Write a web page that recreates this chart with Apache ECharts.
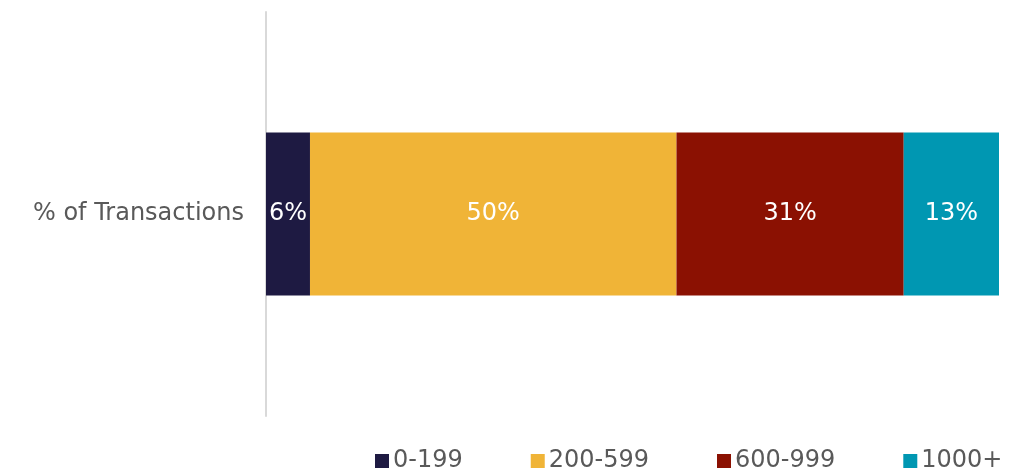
<!DOCTYPE html>
<html>
<head>
<meta charset="utf-8">
<style>
  html, body { margin: 0; padding: 0; background: #fff; }
  #chart { width: 1029px; height: 473px; }
</style>
<script src="https://cdn.jsdelivr.net/npm/echarts@6/dist/echarts.min.js"></script>
</head>
<body>
<div id="chart"></div>
<script>
  const CATEGORIES = ["% of Transactions"];
  const SERIES_NAMES = ["0-199", "200-599", "600-999", "1000+"];
  const SERIES_VALUES = [[6], [50], [31], [13]];
  const COLORS = ["#1e1a42", "#f0b437", "#8b1102", "#0097b2"];

  const chart = echarts.init(document.getElementById("chart"));
  const FONT = "'DejaVu Sans', sans-serif";

  chart.setOption({
    animation: false,
    textStyle: { fontFamily: FONT },
    grid: { left: 266, right: 30, top: 12, bottom: 57 },
    legend: {
      left: 370, bottom: -5,
      itemWidth: 14, itemHeight: 14, itemGap: 68,
      icon: "rect",
      textStyle: { fontSize: 24, color: "#595959", fontFamily: FONT, padding: [0, 0, 0, -1] },
      data: SERIES_NAMES,
    },
    xAxis: {
      type: "value", min: 0, max: 100, show: false,
    },
    yAxis: {
      type: "category", data: CATEGORIES,
      axisLine: { show: true, lineStyle: { color: "#d9d9d9", width: 2 } },
      axisTick: { show: false },
      axisLabel: { fontSize: 24, color: "#595959", margin: 22, fontFamily: FONT },
    },
    series: SERIES_NAMES.map((name, i) => ({
      name, type: "bar", stack: "total", data: SERIES_VALUES[i],
      barWidth: 163,
      itemStyle: { color: COLORS[i] },
      label: {
        show: true, position: "inside", color: "#fff", fontSize: 24, fontFamily: FONT,
        formatter: p => p.value + "%",
      },
    })),
  });
</script>
</body>
</html>
